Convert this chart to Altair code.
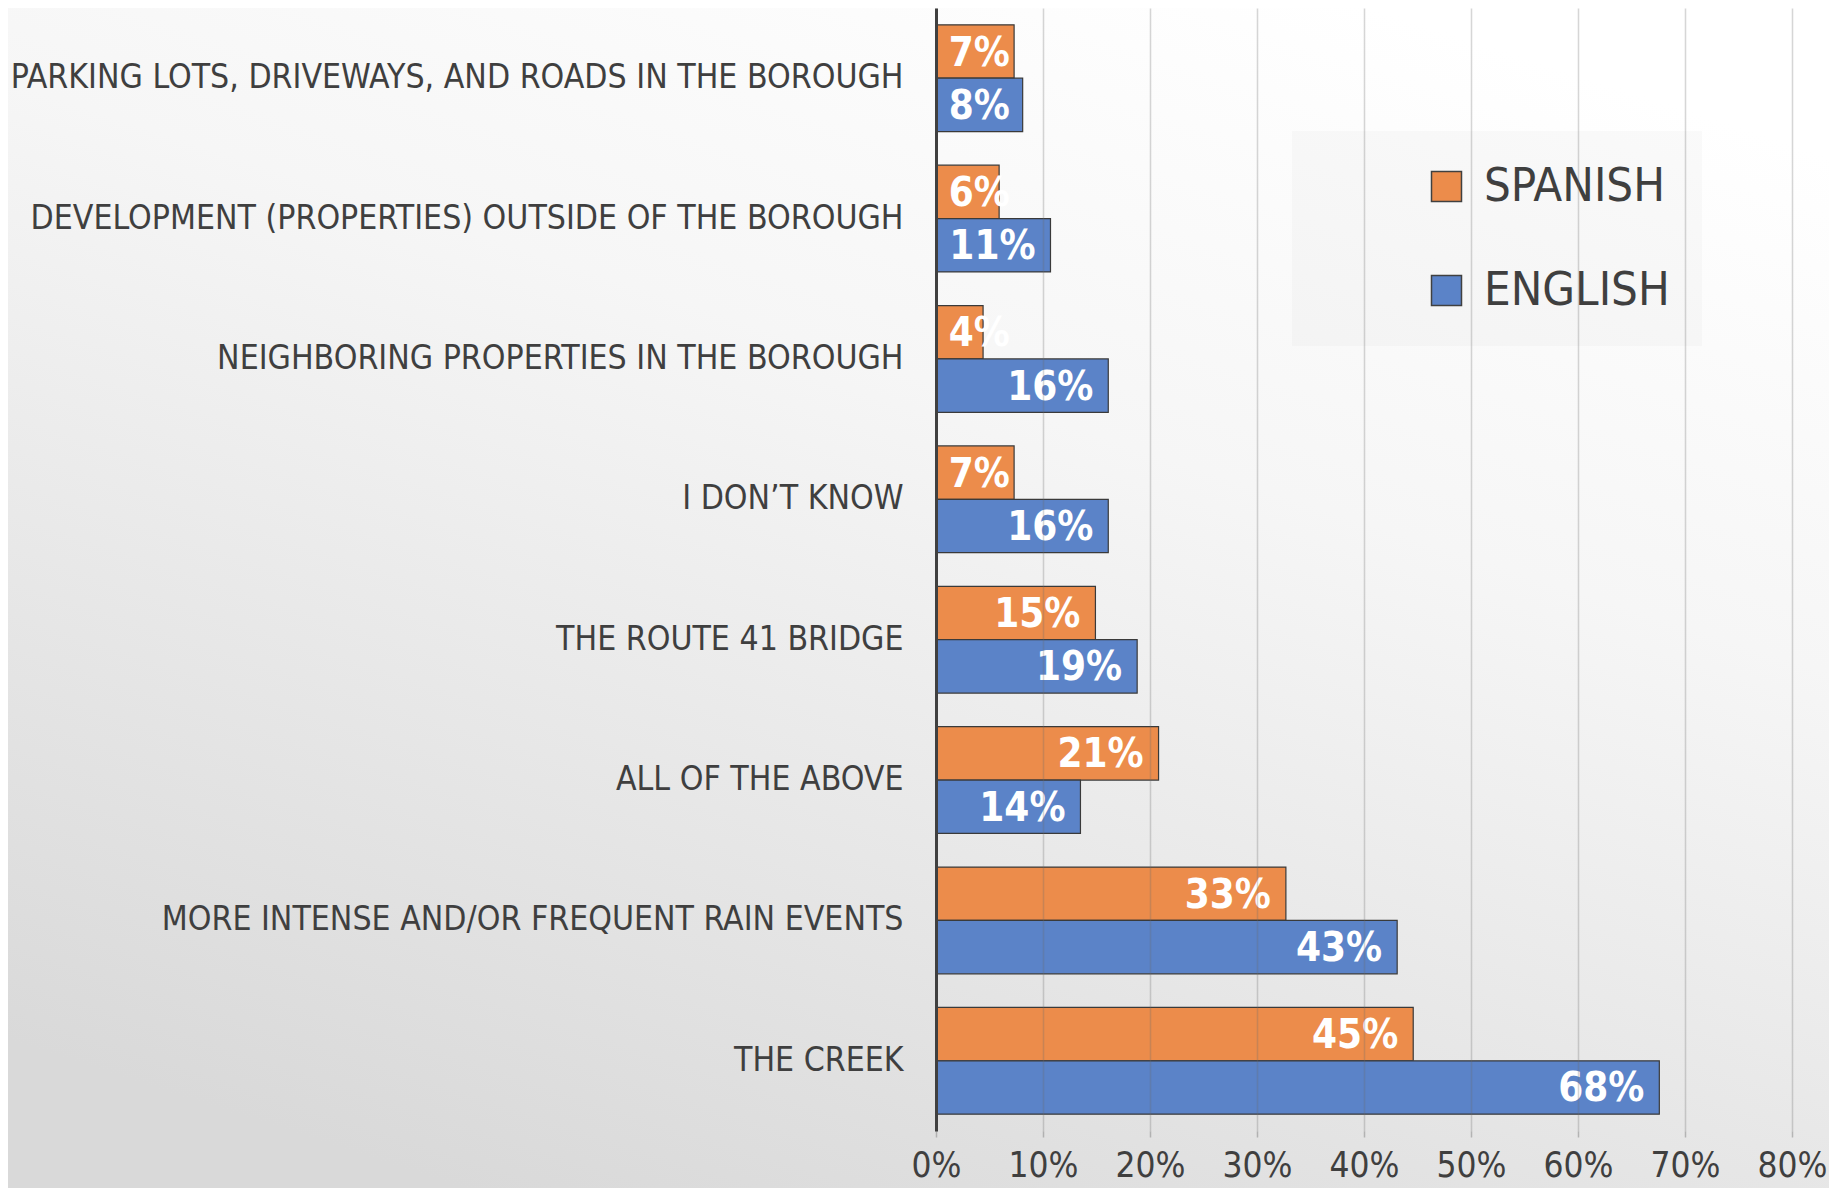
import altair as alt
import pandas as pd

categories = [
    "PARKING LOTS, DRIVEWAYS, AND ROADS IN THE BOROUGH",
    "DEVELOPMENT (PROPERTIES) OUTSIDE OF THE BOROUGH",
    "NEIGHBORING PROPERTIES IN THE BOROUGH",
    "I DON\u2019T KNOW",
    "THE ROUTE 41 BRIDGE",
    "ALL OF THE ABOVE",
    "MORE INTENSE AND/OR FREQUENT RAIN EVENTS",
    "THE CREEK",
]
groups = ["SPANISH", "ENGLISH"]
spanish = [0.073, 0.059, 0.044, 0.073, 0.149, 0.208, 0.327, 0.446]
english = [0.081, 0.107, 0.161, 0.161, 0.188, 0.135, 0.431, 0.676]
spanish_labels = ["7%", "6%", "4%", "7%", "15%", "21%", "33%", "45%"]
english_labels = ["8%", "11%", "16%", "16%", "19%", "14%", "43%", "68%"]
x_ticks = [0, 0.1, 0.2, 0.3, 0.4, 0.5, 0.6, 0.7, 0.8]
colors = ["#EC8C4B", "#5B83C8"]

FONT = "Liberation Sans Narrow, DejaVu Sans Condensed, Roboto, sans-serif"
TEXT_COLOR = "#3f3f3f"

rows = []
for i, c in enumerate(categories):
    rows.append({"category": c, "group": "SPANISH", "value": spanish[i], "label": spanish_labels[i]})
    rows.append({"category": c, "group": "ENGLISH", "value": english[i], "label": english_labels[i]})
df = pd.DataFrame(rows)

W, H = 856, 1123
PAD = {"left": 928, "top": 0, "right": 37, "bottom": 57}

bg = alt.Chart(pd.DataFrame({"k": [0]})).mark_rect(
    fill=alt.LinearGradient(
        gradient="linear",
        stops=[
            alt.GradientStop(offset=0, color="#ffffff"),
            alt.GradientStop(offset=0.35, color="#f6f6f6"),
            alt.GradientStop(offset=1, color="#d9d9d9"),
        ],
        x1=0.75, y1=0, x2=0.25, y2=1,
    ),
    strokeWidth=0,
).encode(
    x=alt.value(-PAD["left"]),
    x2=alt.value(W + PAD["right"]),
    y=alt.value(0),
    y2=alt.value(H + PAD["bottom"]),
)

y_enc = alt.Y(
    "category:N",
    sort=categories,
    title=None,
    scale=alt.Scale(paddingInner=0.24, paddingOuter=0.12),
    axis=alt.Axis(
        zindex=1,
        labelFont=FONT,
        labelFontSize=33.5,
        labelColor=TEXT_COLOR,
        labelLimit=1200,
        labelPadding=33,
        ticks=False,
        grid=False,
        domainColor="#404040",
        domainWidth=3,
    ),
)
yoff = alt.YOffset("group:N", sort=groups, scale=alt.Scale(domain=groups))

bars = alt.Chart(df).mark_bar(stroke="#3a3a3a", strokeWidth=1.2).encode(
    y=y_enc,
    yOffset=yoff,
    x=alt.X(
        "value:Q",
        title=None,
        scale=alt.Scale(domain=[0, 0.8], nice=False),
        axis=alt.Axis(
            zindex=1,
            values=x_ticks,
            format=".0%",
            labelFont=FONT,
            labelFontSize=35,
            labelColor=TEXT_COLOR,
            labelPadding=11,
            labelFlush=False,
            domain=False,
            grid=True,
            gridColor="#6a6a6a",
            gridOpacity=0.28,
            gridWidth=1.5,
            ticks=True,
            tickColor="#6a6a6a",
            tickOpacity=0.4,
            tickSize=6,
            tickWidth=1.5,
        ),
    ),
    color=alt.Color(
        "group:N",
        scale=alt.Scale(domain=groups, range=colors),
        legend=alt.Legend(
            title=None,
            orient="none",
            legendX=356,
            legendY=123,
            padding=32,
            fillColor="rgba(190,190,190,0.08)",
            symbolType="square",
            symbolSize=900,
            symbolOffset=99,
            symbolStrokeColor="#404040",
            symbolStrokeWidth=1.5,
            symbolOpacity=1,
            labelFont=FONT,
            labelFontSize=47,
            labelColor=TEXT_COLOR,
            labelLimit=500,
            labelOffset=14,
            rowPadding=56,
        ),
    ),
)

labels = alt.Chart(df).transform_calculate(
    labelx="max(datum.value, length(datum.label) < 3 ? 0.083 : 0.099)"
).mark_text(
    align="right",
    baseline="middle",
    dx=-15,
    dy=2,
    color="white",
    font=FONT,
    fontSize=40,
    fontWeight="bold",
).encode(
    y=alt.Y("category:N", sort=categories, title=None),
    yOffset=yoff,
    x=alt.X("labelx:Q", title=None),
    text="label:N",
)

chart = alt.layer(bg, bars, labels).properties(
    width=W,
    height=H,
    padding=PAD,
    autosize=alt.AutoSizeParams(type="none"),
    background="#ececec",
).configure_view(stroke=None)

chart.save("out.html", embed_options={"renderer": "svg", "actions": False})
